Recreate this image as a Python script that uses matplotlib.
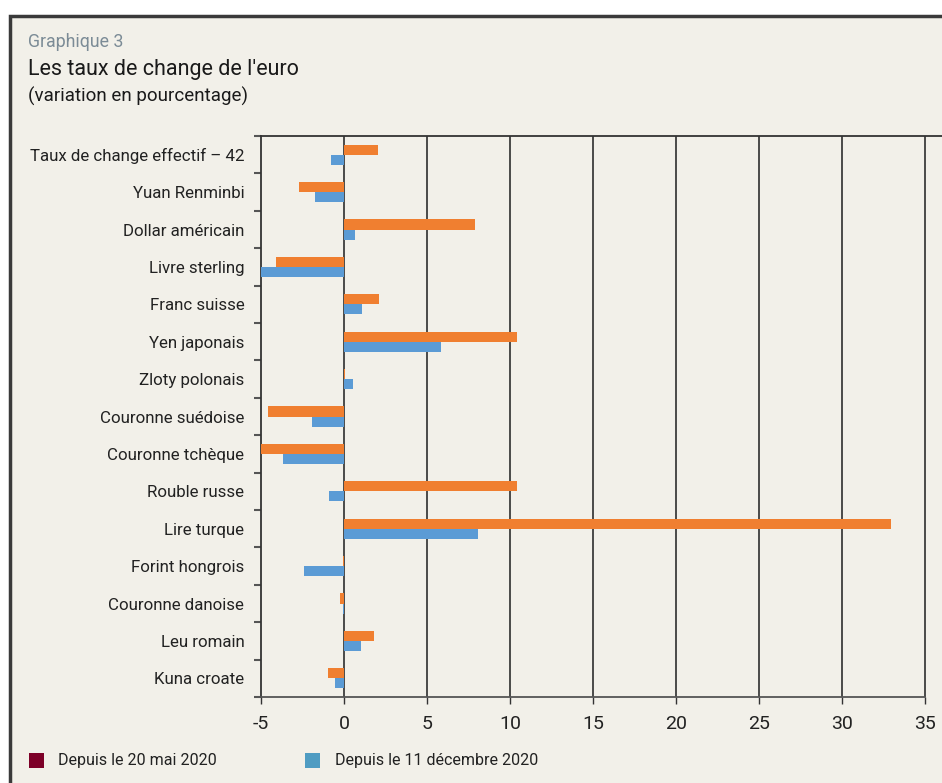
import matplotlib
matplotlib.use("Agg")
import matplotlib.pyplot as plt
from matplotlib.patches import Rectangle
import numpy as np

categories = ["Taux de change effectif – 42", "Yuan Renminbi", "Dollar américain",
              "Livre sterling", "Franc suisse", "Yen japonais", "Zloty polonais",
              "Couronne suédoise", "Couronne tchèque", "Rouble russe", "Lire turque",
              "Forint hongrois", "Couronne danoise", "Leu romain", "Kuna croate"]
since_may = [2.05, -2.7, 7.9, -4.1, 2.1, 10.4, 0.05, -4.6, -5.0, 10.4, 32.9, -0.05, -0.25, 1.8, -0.95]
since_dec = [-0.8, -1.75, 0.65, -5.0, 1.1, 5.85, 0.55, -1.95, -3.7, -0.9, 8.05, -2.4, -0.05, 1.05, -0.55]
xticks = [-5, 0, 5, 10, 15, 20, 25, 30, 35]
legend_labels = ["Depuis le 20 mai 2020", "Depuis le 11 décembre 2020"]

BG = "#f2f0e9"
ORANGE = "#f07f30"
BLUE = "#5b9bd5"
plt.rcParams['font.family'] = ["Roboto", "DejaVu Sans"]
cond = dict(family=["Roboto", "DejaVu Sans"], fontstretch="condensed")

fig = plt.figure(figsize=(9.42, 7.83), dpi=100)
fig.patch.set_facecolor("white")
# panel background and frame
fig.patches.append(Rectangle((10/942, -0.05), 1.0, (783-16)/783 + 0.05, transform=fig.transFigure,
                             facecolor=BG, edgecolor="#3a3a3a", linewidth=2.5, zorder=-5))

fig.text(28/942, 1-42/783, "Graphique 3", color="#7b8b96", fontsize=12.8, va="center", ha="left")
fig.text(28/942, 1-69/783, "Les taux de change de l'euro", color="#1a1a1a", fontsize=15.5, va="center", ha="left")
fig.text(28/942, 1-96/783, "(variation en pourcentage)", color="#1a1a1a", fontsize=13.5, va="center", ha="left")

ax = fig.add_axes([261/942, 86/783, 681/942, (697-136)/783])
ax.set_facecolor("none")
y = np.arange(len(categories))
h = 0.27
ax.barh(y - h/2, since_may, height=h, color=ORANGE, zorder=3)
ax.barh(y + h/2, since_dec, height=h, color=BLUE, zorder=3)

ax.set_xlim(-5, 36)
ax.set_ylim(len(categories) - 0.5, -0.5)
for t in xticks[1:]:
    ax.axvline(t, color="#2e2e2e", lw=1.2, zorder=2)
ax.set_xticks(xticks)
ax.set_xticklabels([str(t) for t in xticks], fontsize=14, color="#222", **cond)
ax.tick_params(axis="x", length=5, width=1, color="#333", direction="out", pad=8)

ax.set_yticks(np.arange(len(categories) + 1) - 0.5)
ax.set_yticklabels([])
ax.set_yticks(y, minor=True)
ax.set_yticklabels(categories, minor=True, fontsize=12.2, color="#222")
ax.tick_params(axis="y", which="major", length=5, width=1.5, color="#555")
ax.tick_params(axis="y", which="minor", length=0, pad=12)

for s in ["left", "bottom", "top"]:
    ax.spines[s].set_color("#333")
    ax.spines[s].set_linewidth(1.3)
ax.spines["right"].set_visible(False)
ax.spines["bottom"].set_bounds(-5, 35)
ax.spines["bottom"].set_color("#555")

# legend
fig.patches.append(Rectangle((29/942, 1-768/783), 15/942, 15/783, transform=fig.transFigure,
                             facecolor="#7d0028", edgecolor="none"))
fig.text(58/942, 1-760/783, legend_labels[0], fontsize=11.5, color="#222", va="center", **cond)
fig.patches.append(Rectangle((305/942, 1-768/783), 15/942, 15/783, transform=fig.transFigure,
                             facecolor="#4f9cc2", edgecolor="none"))
fig.text(335/942, 1-760/783, legend_labels[1], fontsize=11.5, color="#222", va="center", **cond)

fig.savefig("out.png", dpi=100, facecolor=fig.get_facecolor())
